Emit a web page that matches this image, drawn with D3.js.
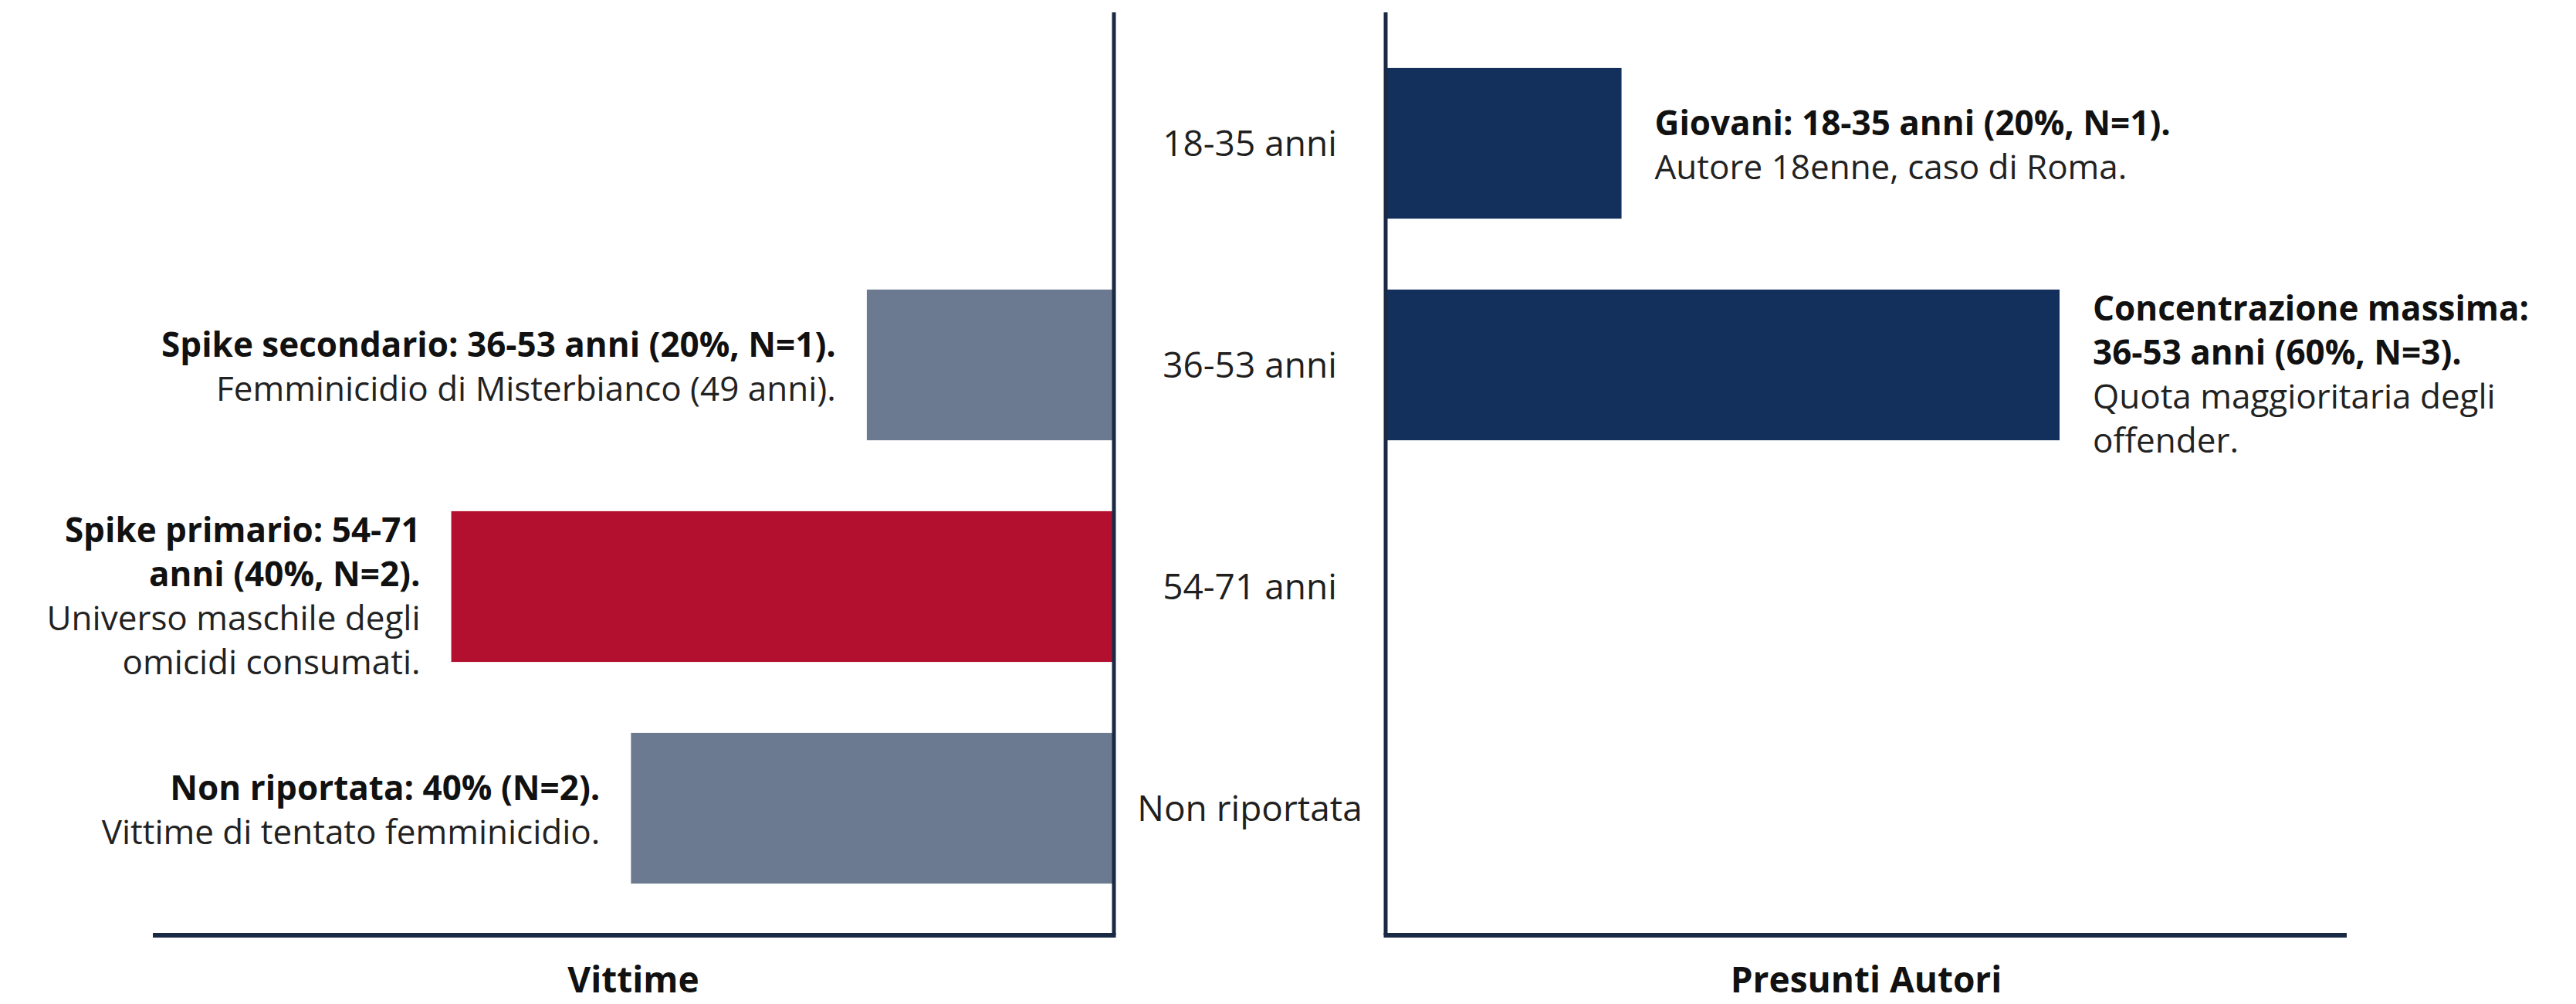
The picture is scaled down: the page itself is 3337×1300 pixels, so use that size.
<!DOCTYPE html>
<html>
<head>
<meta charset="utf-8">
<script src="https://cdn.jsdelivr.net/npm/d3@7"></script>
<style>
  html, body { margin: 0; padding: 0; background: #ffffff; }
  svg { display: block; font-family: "Open Sans", "Noto Sans", sans-serif; }
</style>
</head>
<body>
<svg id="chart" width="3337" height="1300"></svg>
<script>
// ---- data ----
const categories = ["18-35 anni", "36-53 anni", "54-71 anni", "Non riportata"];
// bar lengths as drawn (share %)
const victimValues = [0, 22, 59, 43];
const authorValues = [21, 60, 0, 0];
const victimColors = ["#6b7a90", "#6b7a90", "#b3102f", "#6b7a90"];
const authorColor = "#132f5c";
const victimBold = [
  [],
  ["Spike secondario: 36-53 anni (20%, N=1)."],
  ["Spike primario: 54-71", "anni (40%, N=2)."],
  ["Non riportata: 40% (N=2)."]
];
const victimNote = [
  [],
  ["Femminicidio di Misterbianco (49 anni)."],
  ["Universo maschile degli", "omicidi consumati."],
  ["Vittime di tentato femminicidio."]
];
const authorBold = [
  ["Giovani: 18-35 anni (20%, N=1)."],
  ["Concentrazione massima:", "36-53 anni (60%, N=3)."],
  [],
  []
];
const authorNote = [
  ["Autore 18enne, caso di Roma."],
  ["Quota maggioritaria degli", "offender."],
  [],
  []
];
const panelTitles = ["Vittime", "Presunti Autori"];

// ---- layout ----
const svg = d3.select("#chart");
const axisColor = "#1b2a44";
const fs = 46, fsNote = 44, lh = 57;

const y = d3.scaleBand().domain(categories).range([42, 1190]).paddingInner(0.32).paddingOuter(0.16);
const xLeft = d3.scaleLinear().domain([0, 60]).range([1443, 570]);
const xRight = d3.scaleLinear().domain([0, 60]).range([1795, 2668]);
const axisTop = 16, axisBottom = 1211;
const leftAxisStart = 198, rightAxisEnd = 3040;

// bars
svg.append("g").selectAll("rect").data(categories).join("rect")
  .attr("x", (d, i) => xLeft(victimValues[i]))
  .attr("y", d => y(d))
  .attr("width", (d, i) => xLeft(0) - xLeft(victimValues[i]))
  .attr("height", y.bandwidth())
  .attr("fill", (d, i) => victimColors[i]);

svg.append("g").selectAll("rect").data(categories).join("rect")
  .attr("x", xRight(0))
  .attr("y", d => y(d))
  .attr("width", (d, i) => xRight(authorValues[i]) - xRight(0))
  .attr("height", y.bandwidth())
  .attr("fill", authorColor);

// axis lines
const axes = svg.append("g").attr("stroke", axisColor).attr("fill", "none");
axes.append("line").attr("x1", xLeft(0)).attr("x2", xLeft(0)).attr("y1", axisTop).attr("y2", axisBottom).attr("stroke-width", 5);
axes.append("line").attr("x1", xRight(0)).attr("x2", xRight(0)).attr("y1", axisTop).attr("y2", axisBottom).attr("stroke-width", 5);
axes.append("line").attr("x1", leftAxisStart).attr("x2", xLeft(0) + 2.5).attr("y1", axisBottom).attr("y2", axisBottom).attr("stroke-width", 6);
axes.append("line").attr("x1", xRight(0) - 2.5).attr("x2", rightAxisEnd).attr("y1", axisBottom).attr("y2", axisBottom).attr("stroke-width", 6);

// category labels in the middle
const midX = (xLeft(0) + xRight(0)) / 2;
svg.append("g").selectAll("text").data(categories).join("text")
  .attr("x", midX)
  .attr("y", d => y(d) + y.bandwidth() / 2)
  .attr("dy", "0.36em")
  .attr("text-anchor", "middle")
  .attr("font-size", fs)
  .attr("fill", "#1f1f1f")
  .text(d => d);

// annotations
function annotate(bold, note, i, x, anchor) {
  const lines = bold.map(t => ({ t, b: true })).concat(note.map(t => ({ t, b: false })));
  if (!lines.length) return;
  const n = lines.length;
  const c = y(categories[i]) + y.bandwidth() / 2;
  const first = c - (n <= 2 ? 11 : 58);
  const g = svg.append("g");
  lines.forEach((L, k) => {
    g.append("text")
      .attr("x", x)
      .attr("y", first + k * lh)
      .attr("text-anchor", anchor)
      .attr("font-size", fsNote)
      .attr("font-weight", L.b ? 700 : 400)
      .attr("fill", L.b ? "#111111" : "#222222")
      .text(L.t);
  });
}
const gap = 40;
categories.forEach((d, i) => {
  annotate(victimBold[i], victimNote[i], i, xLeft(victimValues[i]) - gap, "end");
  annotate(authorBold[i], authorNote[i], i, xRight(authorValues[i]) + gap + 3, "start");
});

// panel titles
svg.append("g").selectAll("text").data(panelTitles).join("text")
  .attr("x", (d, i) => i === 0 ? (leftAxisStart + xLeft(0)) / 2 : (xRight(0) + rightAxisEnd) / 2)
  .attr("y", 1285)
  .attr("text-anchor", "middle")
  .attr("font-size", fs)
  .attr("font-weight", 700)
  .attr("fill", "#111111")
  .text(d => d);
</script>
</body>
</html>
